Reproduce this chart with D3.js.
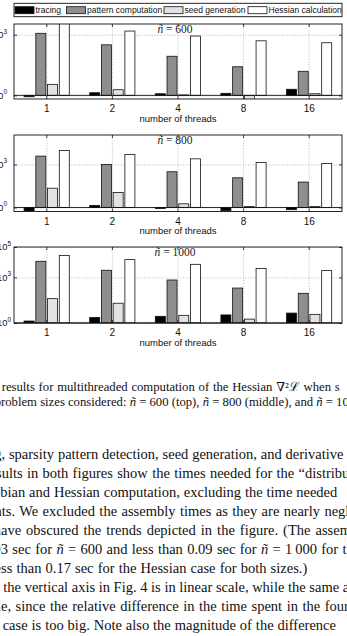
<!DOCTYPE html>
<html>
<head>
<meta charset="utf-8">
<script src="https://cdn.jsdelivr.net/npm/d3@7"></script>
<style>
body { margin: 0; background: #fff; }
</style>
</head>
<body>
<svg id="fig" width="347" height="636"></svg>
<script>
var threads = ["1", "2", "4", "8", "16"];
var seriesNames = ["tracing", "pattern computation", "seed generation", "Hessian calculation"];
var sizes = ["600", "800", "1000"];

// times
var tracing600 = [0.85, 1.35, 1.2, 1.26, 2.0];
var pattern600 = [1175, 316, 86, 26, 15.5];
var seed600 = [3.5, 1.9, 1.05, 0.6, 1.2];
var hessian600 = [4000, 1520, 860, 500, 400];

var tracing800 = [0.57, 1.4, 0.85, 0.6, 0.7];
var pattern800 = [3800, 1000, 308, 117, 59];
var seed800 = [22, 11, 1.8, 1.15, 1.15];
var hessian800 = [9300, 4900, 2450, 1380, 1175];

var tracing1000 = [1.35, 2.3, 2.75, 3.4, 4.5];
var pattern1000 = [11500, 2950, 675, 200, 90];
var seed1000 = [40, 20, 3.2, 1.8, 3.7];
var hessian1000 = [28000, 14800, 7250, 3800, 2800];

var yTicks = [[1, 1e3], [1, 1e3], [1, 1e3, 1e5]];
var yLimits = [[0.66, 3390], [0.525, 112000], [1, 1e5]];

var captionLines = [
    "results for multithreaded computation of the Hessian \u2207\u00b2\u2112 when s",
    "problem sizes considered: *\u00f1* = 600 (top), *\u00f1* = 800 (middle), and *\u00f1* = 1000 (bottom)."
];
var bodyLines = [
    "ng, sparsity pattern detection, seed generation, and derivative",
    "sults in both figures show the times needed for the \u201cdistributed",
    "cobian and Hessian computation, excluding the time needed",
    "nts. We excluded the assembly times as they are nearly negligible",
    "have obscured the trends depicted in the figure. (The assembly",
    "03 sec for *\u00f1* = 600 and less than 0.09 sec for *\u00f1* = 1\u2009000 for the",
    "ess than 0.17 sec for the Hessian case for both sizes.)",
    "the vertical axis in Fig. 4 is in linear scale, while the same axis",
    "le, since the relative difference in the time spent in the four",
    "case is too big. Note also the magnitude of the difference"
];

var data = [
    [tracing600, pattern600, seed600, hessian600],
    [tracing800, pattern800, seed800, hessian800],
    [tracing1000, pattern1000, seed1000, hessian1000]
];

var sans = "'Liberation Sans', Arial, Helvetica, sans-serif";
var serif = "'Liberation Serif', 'Times New Roman', 'DejaVu Serif', serif";
var fills = ["#000000", "#8e8e8e", "#e2e2e2", "#ffffff"];

var svg = d3.select("#fig");
svg.append("rect").attr("width", 347).attr("height", 636).attr("fill", "#fff");

var left = 14, right = 342;
var panelTop = [24, 135, 247],
    panelBottom = [99, 211.5, 323],
    labelEnd = [7, 7, 11];

var x = d3.scaleBand().domain(threads).range([left, right]);
var xs = d3.scaleBand().domain(seriesNames)
    .range([x.bandwidth() * 0.154, x.bandwidth() * 0.843])
    .paddingInner(0.145);

function richText(sel, str) {
    str.split("*").forEach(function(part, k) {
        if (!part) return;
        sel.append("tspan").attr("font-style", k % 2 ? "italic" : null).text(part);
    });
}

// legend
var legend = svg.append("g");
legend.append("rect")
    .attr("x", left).attr("y", 3.3).attr("width", right - left).attr("height", 13.4)
    .attr("fill", "#fff").attr("stroke", "#111").attr("stroke-width", 0.9);
var legendX = [15, 66.5, 164, 248];
seriesNames.forEach(function(s, k) {
    legend.append("rect")
        .attr("x", legendX[k]).attr("y", 6.7).attr("width", 19).attr("height", 7)
        .attr("fill", fills[k]).attr("stroke", "#111").attr("stroke-width", 0.8);
    legend.append("text")
        .attr("x", legendX[k] + 20.5).attr("y", 13.4)
        .attr("font-family", sans).attr("font-size", 8.5).attr("fill", "#111")
        .text(s);
});

sizes.forEach(function(size, i) {
    var top = panelTop[i], bottom = panelBottom[i];
    var y = d3.scaleLog().domain(yLimits[i]).range([bottom, top]);
    var g = svg.append("g");

    g.append("clipPath").attr("id", "clip" + i)
        .append("rect").attr("x", left).attr("y", top)
        .attr("width", right - left).attr("height", bottom - top);

    // dotted grid
    var gridX = g.append("g").attr("transform", "translate(0," + bottom + ")")
        .call(d3.axisBottom(x).tickSize(-(bottom - top)).tickFormat(""));
    var gridY = g.append("g").attr("transform", "translate(" + left + ",0)")
        .call(d3.axisLeft(y).tickValues(yTicks[i]).tickSize(-(right - left)).tickFormat(""));
    [gridX, gridY].forEach(function(a) {
        a.select(".domain").remove();
        a.selectAll("line").attr("stroke", "#a0a0a0").attr("stroke-width", 0.7)
            .attr("stroke-dasharray", "1,1.6");
    });

    // bars grow from the 10^0 baseline
    var bars = g.append("g").attr("clip-path", "url(#clip" + i + ")");
    seriesNames.forEach(function(s, k) {
        bars.selectAll(null)
            .data(data[i][k])
            .enter().append("rect")
            .attr("x", function(d, j) { return x(threads[j]) + xs(s); })
            .attr("width", xs.bandwidth())
            .attr("y", function(d) { return Math.min(y(d), y(1)); })
            .attr("height", function(d) { return Math.abs(y(d) - y(1)); })
            .attr("fill", fills[k])
            .attr("stroke", "#111")
            .attr("stroke-width", 0.8);
    });
    g.append("line")
        .attr("x1", left).attr("x2", right).attr("y1", y(1)).attr("y2", y(1))
        .attr("stroke", "#111").attr("stroke-width", 0.9);

    // inward ticks on all four sides
    var axB = g.append("g").attr("transform", "translate(0," + bottom + ")")
        .call(d3.axisBottom(x).tickSizeInner(-3).tickSizeOuter(0).tickPadding(5.9));
    var axT = g.append("g").attr("transform", "translate(0," + top + ")")
        .call(d3.axisTop(x).tickSizeInner(-3).tickSizeOuter(0).tickFormat(""));
    var axL = g.append("g").attr("transform", "translate(" + left + ",0)")
        .call(d3.axisLeft(y).tickValues(yTicks[i]).tickSizeInner(-3).tickSizeOuter(0).tickFormat(""));
    var axR = g.append("g").attr("transform", "translate(" + right + ",0)")
        .call(d3.axisRight(y).tickValues(yTicks[i]).tickSizeInner(-3).tickSizeOuter(0).tickFormat(""));
    [axB, axT, axL, axR].forEach(function(a) {
        a.select(".domain").remove();
        a.selectAll("line").attr("stroke", "#111").attr("stroke-width", 0.8);
    });
    axB.selectAll("text")
        .attr("font-family", sans).attr("font-size", 10).attr("fill", "#111");

    // y labels as 10^k
    yTicks[i].forEach(function(v) {
        var t = g.append("text")
            .attr("x", labelEnd[i]).attr("y", y(v) + 3.2)
            .attr("text-anchor", "end")
            .attr("font-family", sans).attr("font-size", 9.3).attr("fill", "#111");
        t.append("tspan").text("10");
        t.append("tspan").attr("font-size", 6.5).attr("dy", -4.2)
            .text(Math.round(Math.log10(v)));
    });

    g.append("rect")
        .attr("x", left).attr("y", top).attr("width", right - left).attr("height", bottom - top)
        .attr("fill", "none").attr("stroke", "#111").attr("stroke-width", 0.9);

    var mid = (left + right) / 2;
    var title = g.append("text")
        .attr("x", mid - 3).attr("y", top + 8.8)
        .attr("text-anchor", "middle")
        .attr("font-family", serif).attr("font-size", 11.5).attr("fill", "#222");
    richText(title, "*\u00f1* = " + size);

    g.append("text")
        .attr("x", mid).attr("y", bottom + 22.6)
        .attr("text-anchor", "middle")
        .attr("font-family", sans).attr("font-size", 9.5).attr("fill", "#111")
        .text("number of threads");
});

// caption and running text below the figure (justified, so word gaps vary)
var captionX = [1.7, -5.3];
var captionGap = [0.6, 0];
captionLines.forEach(function(line, k) {
    var t = svg.append("text")
        .attr("x", captionX[k]).attr("y", 391 + k * 14.5)
        .attr("word-spacing", captionGap[k])
        .attr("font-family", serif).attr("font-size", 12.7).attr("fill", "#111");
    richText(t, line);
});

var bodyX = [-13, -4, -13.5, -5.5, -6.3, -6.5, -5.4, 3.3, -3, 2.7];
var bodyGap = [0.2, 0.7, 0.3, 0.8, 1.4, 0.7, 0.5, 0, 0.9, 0.3];
bodyLines.forEach(function(line, k) {
    var t = svg.append("text")
        .attr("x", bodyX[k]).attr("y", 459 + k * 19)
        .attr("word-spacing", bodyGap[k])
        .attr("font-family", serif).attr("font-size", 14.5).attr("fill", "#111");
    richText(t, line);
});
</script>
</body>
</html>
